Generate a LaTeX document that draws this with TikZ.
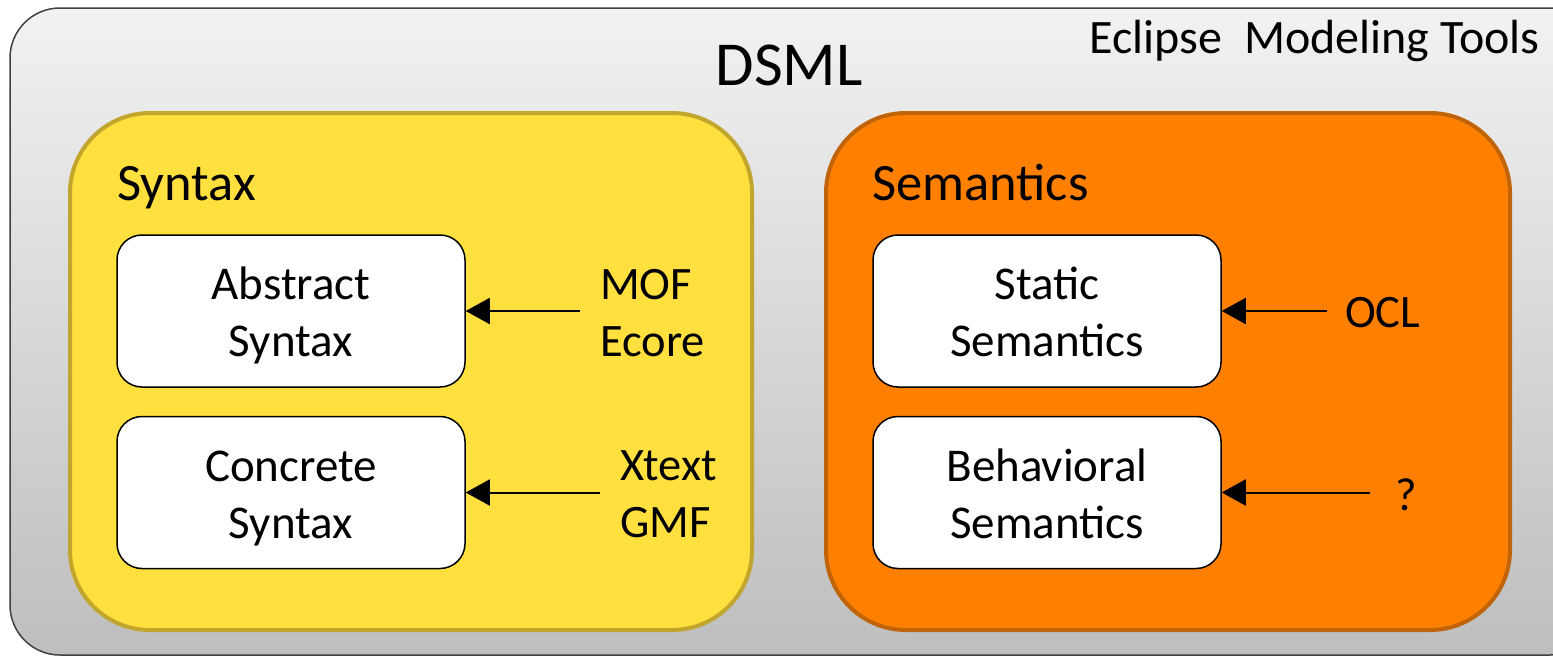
\documentclass[tikz,border=0pt]{standalone}
\usepackage{fontspec}
\setmainfont{Carlito}
\usetikzlibrary{arrows.meta}
\definecolor{outerTop}{HTML}{F2F2F2}
\definecolor{outerBot}{HTML}{BEBEBE}
\definecolor{outerLine}{HTML}{404040}
\definecolor{synFill}{HTML}{FFE03F}
\definecolor{synLine}{HTML}{C2A52C}
\definecolor{semFill}{HTML}{FF8000}
\definecolor{semLine}{HTML}{C0640A}
\tikzset{
  bigbox/.style={rounded corners=80pt, line width=4pt, inner sep=0pt},
  innerbox/.style={draw=black, fill=white, rounded corners=25pt, line width=1.5pt,
     minimum width=348pt, minimum height=152pt, inner sep=0pt, align=center,
     text height=91pt, text depth=0pt,
     font=\fontsize{47}{57}\selectfont},
  lbl/.style={inner sep=0pt, align=left, font=\fontsize{46.5}{57}\selectfont},
  head/.style={inner sep=0pt, font=\fontsize{52.5}{60}\selectfont},
  conn/.style={line width=2pt, -{Triangle[length=24pt,width=26pt]}},
}
\begin{document}
\begin{tikzpicture}[x=1pt,y=-1pt]
\useasboundingbox (0,0) rectangle (1553,656);
% outer box
\begin{scope}
\clip (0,0) rectangle (1553,656);
\shade[top color=outerTop, bottom color=outerBot, draw=outerLine, line width=1.5pt, rounded corners=50pt]
  (10,8) rectangle (1600,655);
\end{scope}
\node[inner sep=0pt, font=\fontsize{62.5}{70}\selectfont, anchor=base] (dsml) at (789,85) {DSML};
\node[inner sep=0pt, font=\fontsize{48}{54}\selectfont, anchor=base east] (emt) at (1540,53) {Eclipse\ \ Modeling Tools};
% syntax box
\node[bigbox, draw=synLine, fill=synFill, minimum width=682pt, minimum height=517pt] (syn) at (411,371.5) {};
\node[head, anchor=base west] (synh) at (117,200) {Syntax};
% semantics box
\node[bigbox, draw=semLine, fill=semFill, minimum width=684pt, minimum height=517pt] (sem) at (1168,371.5) {};
\node[head, anchor=base west] (semh) at (872,200) {Semantics};
% inner boxes
\node[innerbox] (abs) at (291,311) {Abstract\\Syntax};
\node[innerbox] (con) at (291,492.5) {Concrete\\Syntax};
\node[innerbox] (sta) at (1047,311) {Static\\Semantics};
\node[innerbox] (beh) at (1047,492.5) {Behavioral\\Semantics};
% labels
\node[lbl, anchor=west] (mof) at (600,313) {MOF\\Ecore};
\node[lbl, anchor=west] (xt) at (620,494.5) {Xtext\\GMF};
\node[lbl, anchor=west] (ocl) at (1345,313) {OCL};
\node[lbl, anchor=west] (q) at (1395,495) {?};
\coordinate (mofs) at (580,311);
\coordinate (xts) at (600,492.5);
\coordinate (ocls) at (1327,311);
\coordinate (qs) at (1370,492.5);
% connectors
\draw[conn] (mofs) -- (abs.east |- mofs);
\draw[conn] (xts) -- (con.east |- xts);
\draw[conn] (ocls) -- (sta.east |- ocls);
\draw[conn] (qs) -- (beh.east |- qs);
\end{tikzpicture}
\end{document}
